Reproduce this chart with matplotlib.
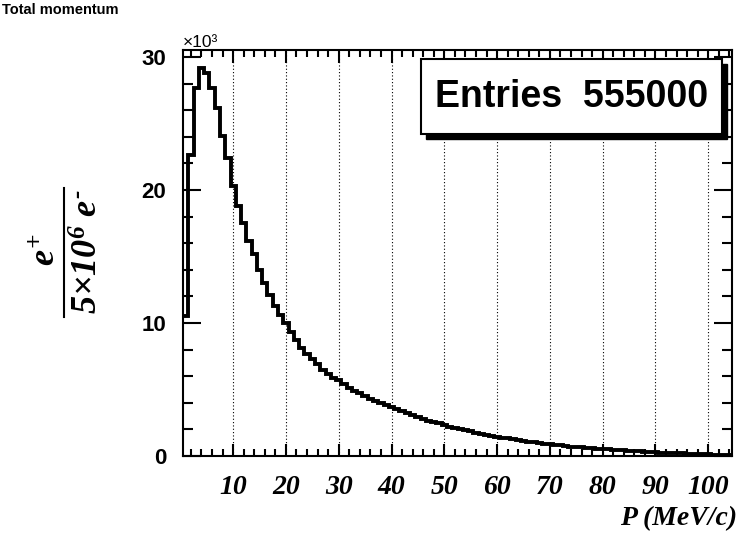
import matplotlib
matplotlib.use("Agg")
import matplotlib.pyplot as plt
from matplotlib.patches import Rectangle
from matplotlib.lines import Line2D
import numpy as np

# histogram: 1 MeV/c bins starting at 0.5, contents in units of 10^3
bin_lo = 0.5
bin_width = 1.0
counts_k = [
	10.5, 22.6, 27.7, 29.2, 28.8, 27.7, 26.2, 24.1, 22.4, 20.3,
	18.8, 17.5, 16.2, 15.2, 14.0, 13.0, 12.1, 11.3, 10.6, 10.0,
	9.3, 8.7, 8.1, 7.7, 7.3, 6.9, 6.5, 6.2, 5.9, 5.7,
	5.4, 5.1, 4.9, 4.7, 4.5, 4.3, 4.1, 3.95, 3.8, 3.65,
	3.5, 3.35, 3.2, 3.05, 2.9, 2.8, 2.65, 2.55, 2.45, 2.3,
	2.2, 2.1, 2.0, 1.92, 1.85, 1.75, 1.68, 1.6, 1.52, 1.45,
	1.38, 1.32, 1.25, 1.2, 1.13, 1.08, 1.02, 0.97, 0.92, 0.87,
	0.83, 0.79, 0.75, 0.71, 0.68, 0.65, 0.62, 0.59, 0.56, 0.53,
	0.5, 0.47, 0.44, 0.42, 0.39, 0.37, 0.35, 0.32, 0.3, 0.28,
	0.26, 0.24, 0.22, 0.21, 0.19, 0.17, 0.16, 0.14, 0.13, 0.12,
	0.1, 0.09, 0.08, 0.07,
]
x_major = [10, 20, 30, 40, 50, 60, 70, 80, 90, 100]
y_major = [0, 10, 20, 30]
entries = 555000

plt.rcParams['mathtext.fontset'] = 'custom'
plt.rcParams['mathtext.rm'] = 'Liberation Serif:bold:italic'
plt.rcParams['mathtext.it'] = 'Liberation Serif:bold:italic'
plt.rcParams['mathtext.bf'] = 'Liberation Serif:bold:italic'

W, H = 739, 539
def fx(px):
	return px / W
def fy(py):
	return 1 - py / H

fig = plt.figure(figsize=(W / 100, H / 100), dpi=100)
ax = fig.add_axes([fx(183), fy(456), fx(732) - fx(183), fy(50) - fy(456)])

edges = bin_lo + bin_width * np.arange(len(counts_k) + 1)
ax.stairs(counts_k, edges, color='black', linewidth=2.8, baseline=None)

ax.set_xlim(edges[0], edges[-1])
ax.set_ylim(0, 30.53)

ax.set_xticks(x_major)
ax.set_xticks(np.arange(2, 105, 2), minor=True)
ax.set_yticks(y_major)
ax.set_yticks(np.arange(0, 31, 2), minor=True)
ax.grid(axis='x', which='major', linestyle=(0, (1, 2)), color='black', linewidth=0.8)

for s in ax.spines.values():
	s.set_linewidth(1.5)
ax.tick_params(which='both', direction='in', top=True, right=True, width=1.5)
ax.tick_params(axis='x', which='major', length=9, pad=14)
ax.tick_params(axis='x', which='minor', length=5)
ax.tick_params(axis='y', which='major', length=13, pad=12)
ax.tick_params(axis='y', which='minor', length=7)

for lab in ax.get_xticklabels():
	lab.set_fontfamily('Liberation Serif')
	lab.set_fontweight('bold')
	lab.set_fontstyle('italic')
	lab.set_fontsize(20)
for lab in ax.get_yticklabels():
	lab.set_fontfamily('Liberation Sans')
	lab.set_fontweight('bold')
	lab.set_fontsize(16)

# title and exponent
fig.text(fx(2), fy(14), 'Total momentum', family='Liberation Sans', weight='bold',
		 fontsize=10.5, ha='left', va='baseline')
fig.text(fx(183), fy(47), '×10³', family='Liberation Sans', fontsize=12.5,
		 ha='left', va='baseline')

# axis titles
fig.text(fx(737), fy(519), 'P (MeV/c)', family='Liberation Serif', weight='bold',
		 style='italic', fontsize=20, ha='right', va='center')
fig.text(fx(46), fy(250), r'$e^{+}$', rotation=90, fontsize=26, ha='center', va='center')
fig.text(fx(88), fy(252), '$5{\\times}10^{6}\\ e^{\u2010}$', rotation=90, fontsize=26,
		 ha='center', va='center')
fig.add_artist(Line2D([fx(64), fx(64)], [fy(188), fy(317)], color='black', linewidth=1.5))

# stats box with shadow
bx0, by0, bx1, by1 = 421, 59, 722, 134
sh = 5
fig.add_artist(Rectangle((fx(bx0 + sh), fy(by1 + sh)), fx(bx1 - bx0), fy(by0) - fy(by1),
						 transform=fig.transFigure, facecolor='black', edgecolor='black'))
fig.add_artist(Rectangle((fx(bx0), fy(by1)), fx(bx1 - bx0), fy(by0) - fy(by1),
						 transform=fig.transFigure, facecolor='white', edgecolor='black',
						 linewidth=1.5))
fig.text(fx((bx0 + bx1) / 2), fy((by0 + by1) / 2), 'Entries  %d' % entries,
		 family='Liberation Sans', weight='bold', fontsize=27, ha='center', va='center')

fig.savefig('out.png', dpi=100)
